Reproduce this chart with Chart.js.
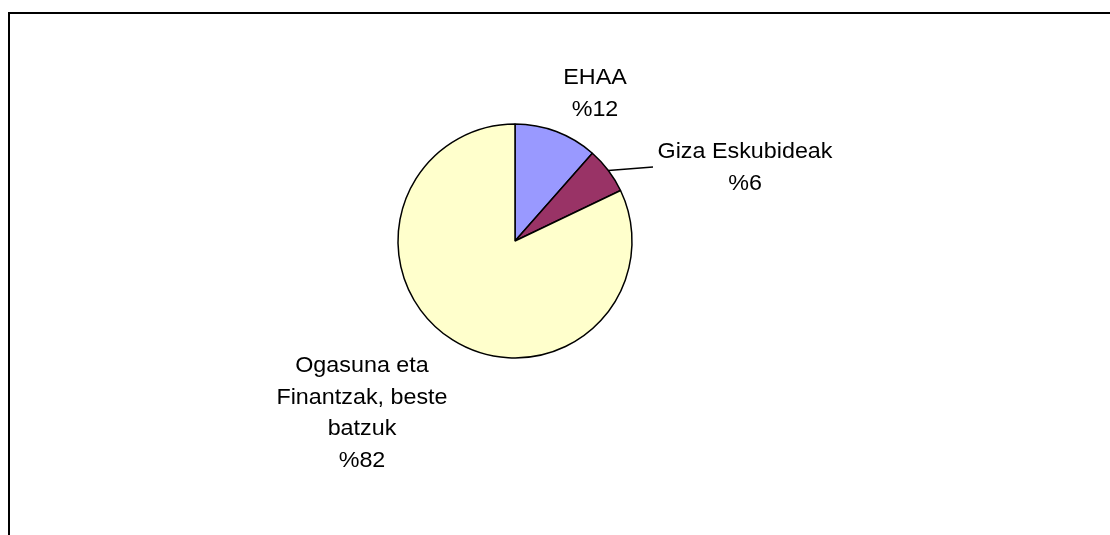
<!DOCTYPE html>
<html>
<head>
<meta charset="utf-8">
<script src="https://cdn.jsdelivr.net/npm/chart.js@4/dist/chart.umd.min.js"></script>
<style>
  html, body { margin: 0; padding: 0; background: #fff; }
  #wrap { width: 1110px; height: 535px; position: relative; }
</style>
</head>
<body>
<div id="wrap"><canvas id="tarta"></canvas></div>
<script>
// Datuak (iruditik irakurrita)
const kategoriak = ['EHAA', 'Giza Eskubideak', 'Ogasuna eta Finantzak, beste batzuk'];
const balioak = [11.5, 6.4, 82.1];
const etiketak = [['EHAA', '%12'], ['Giza Eskubideak', '%6'], ['Ogasuna eta', 'Finantzak, beste', 'batzuk', '%82']];
const koloreak = ['#9999FF', '#993366', '#FFFFCC'];

// Etiketen kokapena tartaren erdigunearekiko (lehen lerroaren oinarria)
const etiketaKokapena = [
    { dx: 80, dy: -157 },
    { dx: 230, dy: -83 },
    { dx: -153, dy: 131 }
];

// Markoa: goiko eta ezkerreko lerroak
const markoaPlugin = {
    id: 'markoa',
    beforeDraw(chart) {
        const ctx = chart.ctx;
        ctx.save();
        ctx.fillStyle = '#000';
        ctx.fillRect(8, 12, chart.width - 8, 2);
        ctx.fillRect(8, 12, 2, chart.height - 12);
        ctx.restore();
    }
};

// Etiketak eta Giza Eskubideak-en gida-lerroa
const etiketaPlugin = {
    id: 'etiketak',
    afterDraw(chart) {
        const ctx = chart.ctx;
        const arcs = chart.getDatasetMeta(0).data;
        ctx.save();
        ctx.fillStyle = '#000';
        ctx.font = '22px "Liberation Sans", Arial, sans-serif';
        ctx.textAlign = 'center';
        ctx.textBaseline = 'alphabetic';
        arcs.forEach((arc, i) => {
            const k = etiketaKokapena[i];
            const x = arc.x + k.dx;
            etiketak[i].forEach((lerroa, j) => {
                const y = arc.y + k.dy + j * 31.5;
                ctx.save();
                ctx.translate(x, y);
                ctx.scale(1.06, 1);
                ctx.fillText(lerroa, 0, 0);
                ctx.restore();
            });
        });

        // gida-lerroa (bigarren zatitik etiketara)
        const arc = arcs[1];
        const erdikoa = (arc.startAngle + arc.endAngle) / 2;
        const r = arc.outerRadius;
        const x0 = arc.x + Math.cos(erdikoa) * r;
        const y0 = arc.y + Math.sin(erdikoa) * r;
        ctx.strokeStyle = '#000';
        ctx.lineWidth = 1.5;
        ctx.beginPath();
        ctx.moveTo(x0, y0);
        ctx.lineTo(arc.x + 138, arc.y - 74);
        ctx.stroke();
        ctx.restore();
    }
};

const ctx = document.getElementById('tarta').getContext('2d');
new Chart(ctx, {
    type: 'pie',
    data: {
        labels: kategoriak,
        datasets: [{
            data: balioak,
            backgroundColor: koloreak,
            borderColor: '#000',
            borderWidth: 1.5
        }]
    },
    options: {
        responsive: true,
        maintainAspectRatio: false,
        animation: false,
        radius: 117,
        layout: { padding: { left: 0, right: 80, top: 0, bottom: 53 } },
        plugins: {
            legend: { display: false },
            tooltip: { enabled: false }
        }
    },
    plugins: [markoaPlugin, etiketaPlugin]
});
</script>
</body>
</html>
